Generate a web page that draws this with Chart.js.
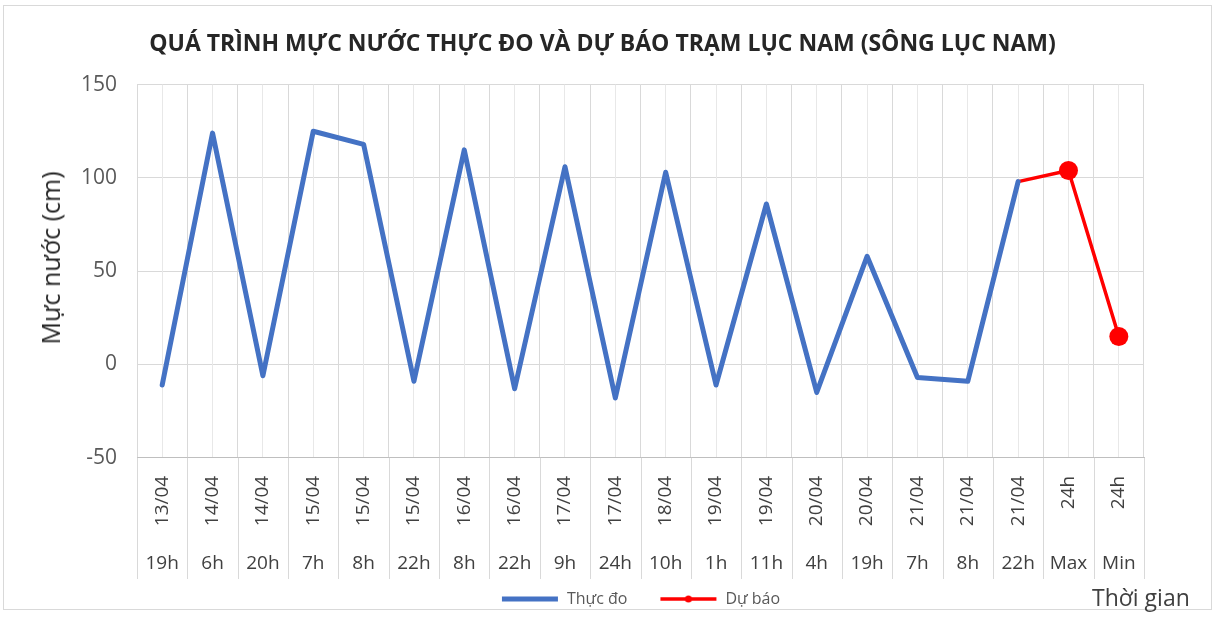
<!DOCTYPE html>
<html>
<head>
<meta charset="utf-8">
<script src="https://cdn.jsdelivr.net/npm/chart.js@4/dist/chart.umd.min.js"></script>
<style>
  html, body { margin: 0; padding: 0; background: #fff; }
  #wrap { position: relative; width: 1217px; height: 617px; }
  #frame { position: absolute; left: 3px; top: 5px; width: 1209px; height: 605px; border: 1px solid #d9d9d9; box-sizing: border-box; }
  #xTitle { position: absolute; left: 1092px; top: 582px; font: 23px "Open Sans", sans-serif; line-height: 31px; color: #404040; }
  #yTitle { position: absolute; left: 50px; top: 258px; transform: translate(-50%, -50%) rotate(-90deg);
            white-space: nowrap; font: 25px "Open Sans", sans-serif; line-height: 30px; color: #262626; }
</style>
</head>
<body>
<div id="wrap">
  <div id="frame"></div>
  <canvas id="levelChart" width="1217" height="617" style="position:absolute;left:0;top:0"></canvas>
  <div id="yTitle">Mực nước (cm)</div>
  <div id="xTitle">Thời gian</div>
</div>
<script>
// Water level chart - Lục Nam station

const dates = ['13/04', '14/04', '14/04', '15/04', '15/04', '15/04', '16/04', '16/04', '17/04', '17/04',
               '18/04', '19/04', '19/04', '20/04', '20/04', '21/04', '21/04', '21/04', '24h', '24h'];
const hours = ['19h', '6h', '20h', '7h', '8h', '22h', '8h', '22h', '9h', '24h',
               '10h', '1h', '11h', '4h', '19h', '7h', '8h', '22h', 'Max', 'Min'];

// measured (Thực đo)
const measured = [-11, 124, -6, 125, 118, -9, 115, -13, 106, -18,
                  103, -11, 86, -15, 58, -7, -9, 98, null, null];
// forecast (Dự báo)
const forecast = [null, null, null, null, null, null, null, null, null, null,
                  null, null, null, null, null, null, null, 98, 104, 15];
const forecastDots = [0, 0, 0, 0, 0, 0, 0, 0, 0, 0, 0, 0, 0, 0, 0, 0, 0, 0, 9.5, 9.5];

const yTicks = [-50, 0, 50, 100, 150];

const FONT = '"Open Sans", sans-serif';
const BLUE = '#4472c4';
const RED = '#ff0000';
const GRID = '#d9d9d9';

// small images for the legend samples
function legendSample(color, width, dot) {
    const c = document.createElement('canvas');
    c.width = 58; c.height = 12;
    const g = c.getContext('2d');
    g.strokeStyle = color;
    g.lineWidth = width;
    g.beginPath();
    g.moveTo(1, 6); g.lineTo(57, 6);
    g.stroke();
    if (dot) {
        g.fillStyle = color;
        g.beginPath();
        g.arc(29, 6, 3.5, 0, Math.PI * 2);
        g.fill();
    }
    return c;
}
const samples = [legendSample(BLUE, 5, false), legendSample(RED, 3.5, true)];

// vertical separators between categories, through both label rows
const separators = {
    id: 'separators',
    afterDraw(chart) {
        const x = chart.scales.x;
        const x2 = chart.scales.x2;
        const g = chart.ctx;
        g.save();
        g.strokeStyle = GRID;
        g.lineWidth = 1;
        for (let i = 0; i <= dates.length; i++) {
            const px = Math.round(x.getPixelForValue(i - 0.5)) + 0.5;
            g.beginPath();
            g.moveTo(px, x.top);
            g.lineTo(px, x2.bottom - 4);
            g.stroke();
        }
        g.restore();
    }
};

const ctx = document.getElementById('levelChart');

const chart = new Chart(ctx, {
    type: 'line',
    data: {
        datasets: [{
            label: 'Thực đo',
            data: measured,
            borderColor: BLUE,
            backgroundColor: BLUE,
            borderWidth: 5,
            pointRadius: 0,
            borderJoinStyle: 'round',
            borderCapStyle: 'round'
        }, {
            label: 'Dự báo',
            data: forecast,
            borderColor: RED,
            backgroundColor: RED,
            borderWidth: 3.5,
            pointRadius: forecastDots,
            pointHoverRadius: forecastDots,
            pointBorderWidth: 0,
            borderJoinStyle: 'round',
            borderCapStyle: 'round'
        }]
    },
    options: {
        responsive: false,
        animation: false,
        layout: {
            padding: { left: 61, right: 73, top: 31, bottom: 0 }
        },
        plugins: {
            title: {
                display: true,
                text: 'QUÁ TRÌNH MỰC NƯỚC THỰC ĐO VÀ DỰ BÁO TRẠM LỤC NAM (SÔNG LỤC NAM)',
                color: '#262626',
                font: { family: FONT, size: 23, weight: 'bold' },
                padding: { top: 0, bottom: 26 }
            },
            legend: {
                position: 'bottom',
                fullSize: false,
                labels: {
                    usePointStyle: true,
                    pointStyleWidth: 58,
                    boxHeight: 12,
                    color: '#595959',
                    font: { family: FONT, size: 16 },
                    padding: 8,
                    generateLabels: function(chart) {
                        const items = Chart.defaults.plugins.legend.labels.generateLabels(chart);
                        items.forEach((item, i) => { item.pointStyle = samples[i]; });
                        // extra room between the two entries
                        items[0].text = items[0].text + '\u2003\u2002';
                        return items;
                    }
                }
            },
            tooltip: { enabled: false }
        },
        scales: {
            y: {
                min: -50,
                max: 150,
                afterBuildTicks: function(scale) {
                    scale.ticks = yTicks.map(v => ({ value: v }));
                },
                grid: { color: GRID, drawTicks: false },
                border: { display: false },
                ticks: {
                    color: '#595959',
                    font: { family: FONT, size: 21 },
                    padding: 20
                }
            },
            x: {
                type: 'category',
                labels: dates,
                offset: true,
                position: 'bottom',
                grid: { offset: true, color: GRID, drawTicks: false },
                border: { color: '#bfbfbf' },
                ticks: {
                    autoSkip: false,
                    minRotation: 90,
                    maxRotation: 90,
                    padding: 18,
                    color: '#404040',
                    font: { family: FONT, size: 19 }
                }
            },
            x2: {
                type: 'category',
                labels: hours,
                offset: true,
                position: 'bottom',
                grid: { offset: false, color: '#e8e8e8', drawTicks: false },
                border: { display: false },
                ticks: {
                    autoSkip: false,
                    maxRotation: 0,
                    padding: 8,
                    color: '#404040',
                    font: { family: FONT, size: 19 }
                }
            }
        }
    },
    plugins: [separators]
});
</script>
</body>
</html>
